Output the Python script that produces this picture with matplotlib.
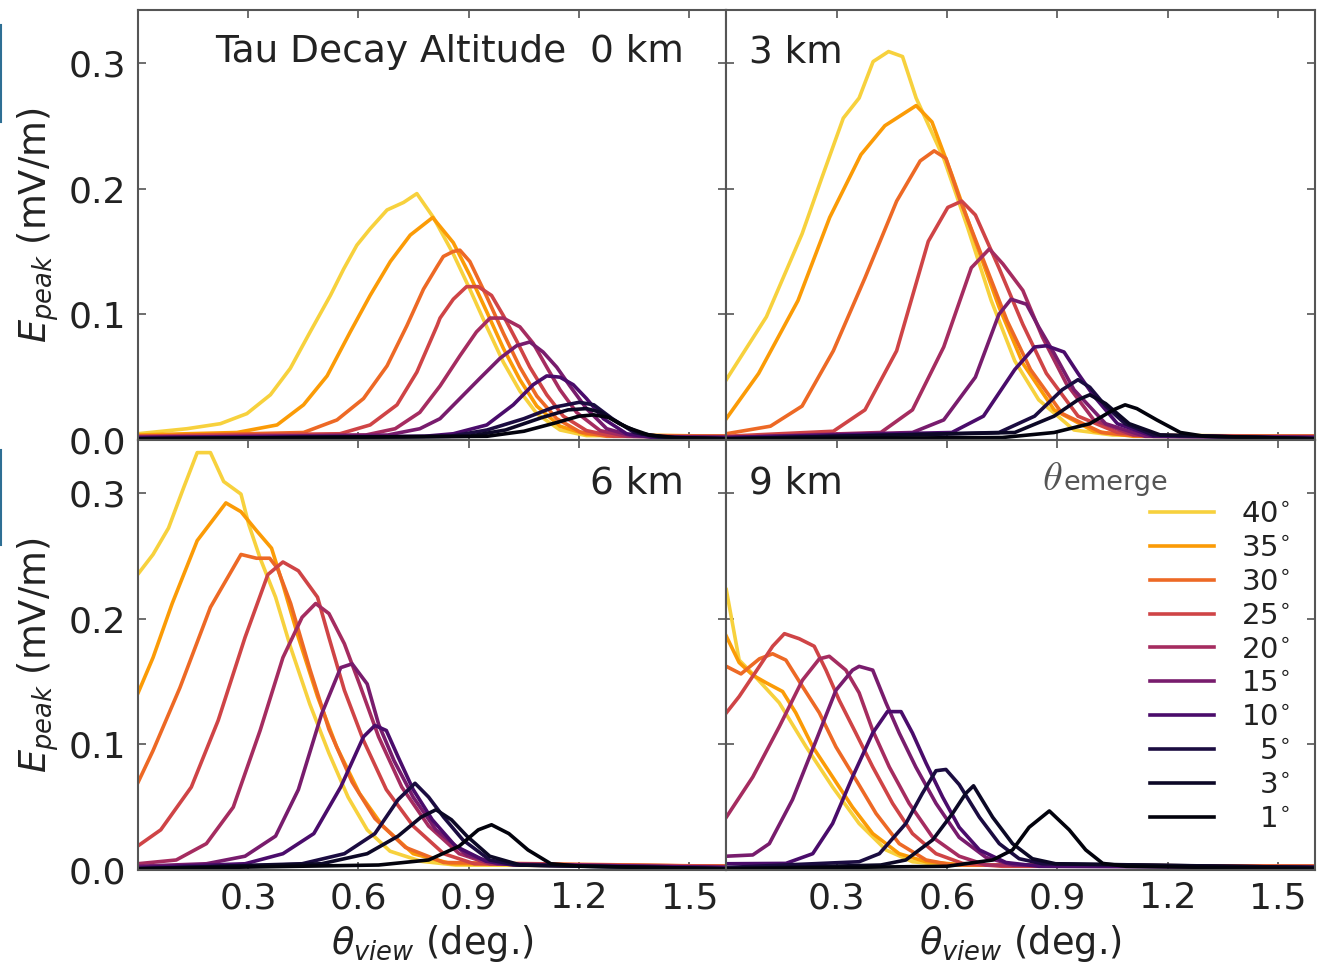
import matplotlib
matplotlib.use('Agg')
import matplotlib.pyplot as plt
import numpy as np
from matplotlib.ticker import FormatStrFormatter

angles = [40, 35, 30, 25, 20, 15, 10, 5, 3, 1]
altitudes = [0, 3, 6, 9]
panel_text = ['Tau Decay Altitude  0 km', '3 km', '6 km', '9 km']
xticks = [0.3, 0.6, 0.9, 1.2, 1.5]
yticks = [0.0, 0.1, 0.2, 0.3]

# altitude 0 km: (theta_view, E_peak) points per emergence angle
a0_t40 = [(0, 0.005), (0.134, 0.009), (0.225, 0.013), (0.297, 0.021), (0.361, 0.036), (0.415, 0.057), (0.469, 0.086), (0.524, 0.115), (0.56, 0.136), (0.596, 0.155), (0.632, 0.168), (0.678, 0.183), (0.723, 0.189), (0.759, 0.196), (0.804, 0.177), (0.858, 0.148), (0.903, 0.12), (0.949, 0.09), (0.994, 0.062), (1.039, 0.039), (1.085, 0.021), (1.148, 0.008), (1.22, 0.0035), (1.6, 0.003)]
a0_t35 = [(0, 0.004), (0.27, 0.006), (0.379, 0.012), (0.451, 0.028), (0.515, 0.051), (0.578, 0.086), (0.632, 0.115), (0.687, 0.142), (0.741, 0.163), (0.802, 0.177), (0.858, 0.157), (0.903, 0.131), (0.949, 0.102), (0.994, 0.073), (1.039, 0.048), (1.085, 0.027), (1.148, 0.011), (1.22, 0.0045), (1.6, 0.003)]
a0_t30 = [(0, 0.003), (0.451, 0.006), (0.542, 0.016), (0.614, 0.033), (0.678, 0.059), (0.732, 0.091), (0.777, 0.12), (0.814, 0.138), (0.831, 0.146), (0.858, 0.15), (0.876, 0.151), (0.903, 0.142), (0.949, 0.114), (0.994, 0.085), (1.039, 0.058), (1.085, 0.035), (1.139, 0.017), (1.202, 0.0065), (1.275, 0.003), (1.6, 0.003)]
a0_t25 = [(0, 0.003), (0.55, 0.005), (0.632, 0.012), (0.705, 0.028), (0.759, 0.054), (0.814, 0.091), (0.822, 0.097), (0.858, 0.112), (0.894, 0.122), (0.926, 0.122), (0.962, 0.115), (0.994, 0.099), (1.03, 0.079), (1.066, 0.058), (1.112, 0.036), (1.157, 0.019), (1.22, 0.0075), (1.293, 0.003), (1.6, 0.003)]
a0_t20 = [(0, 0.002), (0.62, 0.004), (0.7, 0.009), (0.767, 0.022), (0.822, 0.043), (0.876, 0.067), (0.921, 0.086), (0.958, 0.097), (0.994, 0.097), (1.039, 0.09), (1.075, 0.077), (1.112, 0.058), (1.148, 0.04), (1.193, 0.022), (1.257, 0.0075), (1.329, 0.003), (1.6, 0.002)]
a0_t15 = [(0, 0.002), (0.68, 0.004), (0.767, 0.009), (0.822, 0.017), (0.876, 0.033), (0.93, 0.049), (0.985, 0.065), (1.03, 0.075), (1.066, 0.078), (1.102, 0.07), (1.139, 0.058), (1.175, 0.043), (1.22, 0.025), (1.275, 0.009), (1.347, 0.003), (1.6, 0.002)]
a0_t10 = [(0, 0.002), (0.78, 0.003), (0.858, 0.005), (0.949, 0.012), (1.021, 0.028), (1.075, 0.044), (1.112, 0.051), (1.148, 0.05), (1.184, 0.044), (1.22, 0.033), (1.266, 0.017), (1.329, 0.005), (1.401, 0.002), (1.6, 0.002)]
a0_t5 = [(0, 0.001), (0.85, 0.003), (0.95, 0.008), (1.05, 0.017), (1.13, 0.026), (1.2, 0.03), (1.24, 0.028), (1.29, 0.017), (1.35, 0.006), (1.42, 0.002), (1.6, 0.001)]
a0_t3 = [(0, 0.001), (0.9, 0.003), (1.0, 0.008), (1.1, 0.018), (1.17, 0.024), (1.22, 0.025), (1.26, 0.022), (1.31, 0.013), (1.37, 0.005), (1.44, 0.002), (1.6, 0.001)]
a0_t1 = [(0, 0.001), (0.95, 0.003), (1.05, 0.007), (1.14, 0.014), (1.2, 0.019), (1.24, 0.02), (1.28, 0.018), (1.33, 0.01), (1.39, 0.004), (1.46, 0.002), (1.6, 0.001)]

# altitude 3 km
a3_t40 = [(0, 0.048), (0.109, 0.098), (0.206, 0.164), (0.259, 0.208), (0.318, 0.256), (0.361, 0.272), (0.399, 0.301), (0.441, 0.309), (0.479, 0.305), (0.516, 0.272), (0.591, 0.224), (0.656, 0.169), (0.72, 0.111), (0.784, 0.063), (0.849, 0.032), (0.945, 0.008), (1.05, 0.004), (1.6, 0.003)]
a3_t35 = [(0, 0.017), (0.088, 0.053), (0.195, 0.111), (0.281, 0.177), (0.366, 0.227), (0.431, 0.25), (0.516, 0.266), (0.559, 0.253), (0.613, 0.211), (0.677, 0.158), (0.741, 0.106), (0.806, 0.061), (0.891, 0.024), (0.999, 0.007), (1.106, 0.003), (1.6, 0.003)]
a3_t30 = [(0, 0.005), (0.12, 0.011), (0.206, 0.027), (0.291, 0.071), (0.377, 0.129), (0.463, 0.19), (0.527, 0.222), (0.565, 0.23), (0.597, 0.224), (0.634, 0.192), (0.699, 0.143), (0.763, 0.095), (0.827, 0.056), (0.913, 0.021), (1.02, 0.006), (1.127, 0.003), (1.6, 0.003)]
a3_t25 = [(0, 0.003), (0.291, 0.007), (0.377, 0.024), (0.463, 0.071), (0.549, 0.158), (0.602, 0.185), (0.64, 0.19), (0.677, 0.179), (0.741, 0.137), (0.806, 0.092), (0.87, 0.053), (0.956, 0.019), (1.063, 0.006), (1.16, 0.003), (1.6, 0.003)]
a3_t20 = [(0, 0.002), (0.42, 0.006), (0.506, 0.024), (0.591, 0.074), (0.666, 0.137), (0.715, 0.152), (0.752, 0.14), (0.806, 0.119), (0.859, 0.082), (0.924, 0.045), (0.999, 0.016), (1.106, 0.004), (1.6, 0.002)]
a3_t15 = [(0, 0.002), (0.506, 0.006), (0.591, 0.016), (0.677, 0.05), (0.741, 0.1), (0.774, 0.112), (0.816, 0.108), (0.849, 0.09), (0.891, 0.069), (0.945, 0.04), (1.031, 0.013), (1.138, 0.003), (1.6, 0.002)]
a3_t10 = [(0, 0.002), (0.613, 0.006), (0.699, 0.019), (0.784, 0.056), (0.838, 0.074), (0.87, 0.075), (0.918, 0.07), (0.956, 0.053), (0.999, 0.035), (1.063, 0.013), (1.16, 0.003), (1.6, 0.002)]
a3_t5 = [(0, 0.001), (0.741, 0.006), (0.838, 0.019), (0.913, 0.04), (0.956, 0.048), (0.988, 0.042), (1.031, 0.027), (1.084, 0.013), (1.16, 0.004), (1.6, 0.001)]
a3_t3 = [(0, 0.001), (0.784, 0.006), (0.891, 0.019), (0.956, 0.032), (0.988, 0.036), (1.031, 0.029), (1.095, 0.013), (1.18, 0.004), (1.6, 0.001)]
a3_t1 = [(0, 0.001), (0.75, 0.002), (0.891, 0.006), (0.988, 0.013), (1.052, 0.024), (1.084, 0.028), (1.116, 0.025), (1.17, 0.016), (1.234, 0.006), (1.3, 0.003), (1.6, 0.001)]

# altitude 6 km
a6_t40 = [(0, 0.235), (0.042, 0.251), (0.084, 0.272), (0.125, 0.304), (0.162, 0.332), (0.198, 0.332), (0.234, 0.309), (0.281, 0.299), (0.302, 0.275), (0.333, 0.248), (0.375, 0.217), (0.416, 0.177), (0.468, 0.132), (0.52, 0.093), (0.572, 0.058), (0.624, 0.032), (0.686, 0.015), (0.77, 0.007), (0.864, 0.004), (1.6, 0.003)]
a6_t35 = [(0, 0.14), (0.042, 0.169), (0.094, 0.212), (0.162, 0.262), (0.24, 0.292), (0.281, 0.285), (0.323, 0.27), (0.364, 0.256), (0.395, 0.227), (0.437, 0.185), (0.489, 0.138), (0.541, 0.098), (0.603, 0.061), (0.666, 0.035), (0.749, 0.013), (0.853, 0.005), (1.6, 0.003)]
a6_t30 = [(0, 0.069), (0.042, 0.095), (0.115, 0.145), (0.198, 0.209), (0.281, 0.251), (0.323, 0.248), (0.359, 0.248), (0.38, 0.24), (0.416, 0.212), (0.468, 0.16), (0.52, 0.112), (0.583, 0.07), (0.645, 0.041), (0.728, 0.018), (0.832, 0.006), (1.6, 0.003)]
a6_t25 = [(0, 0.019), (0.063, 0.032), (0.146, 0.066), (0.219, 0.119), (0.292, 0.185), (0.354, 0.235), (0.395, 0.245), (0.437, 0.238), (0.489, 0.217), (0.52, 0.185), (0.562, 0.143), (0.614, 0.103), (0.676, 0.064), (0.749, 0.035), (0.832, 0.013), (0.915, 0.005), (1.6, 0.003)]
a6_t20 = [(0, 0.005), (0.105, 0.008), (0.187, 0.021), (0.26, 0.05), (0.333, 0.111), (0.395, 0.169), (0.447, 0.201), (0.484, 0.212), (0.52, 0.204), (0.562, 0.18), (0.603, 0.148), (0.655, 0.106), (0.718, 0.066), (0.791, 0.035), (0.874, 0.013), (0.957, 0.005), (1.6, 0.002)]
a6_t15 = [(0, 0.003), (0.187, 0.005), (0.292, 0.011), (0.375, 0.027), (0.437, 0.064), (0.5, 0.124), (0.552, 0.161), (0.583, 0.164), (0.624, 0.148), (0.655, 0.116), (0.697, 0.087), (0.749, 0.058), (0.811, 0.032), (0.895, 0.012), (0.978, 0.005), (1.6, 0.002)]
a6_t10 = [(0, 0.002), (0.292, 0.005), (0.395, 0.013), (0.479, 0.029), (0.552, 0.066), (0.614, 0.106), (0.645, 0.115), (0.676, 0.111), (0.708, 0.09), (0.749, 0.064), (0.801, 0.04), (0.864, 0.019), (0.947, 0.007), (1.02, 0.004), (1.6, 0.002)]
a6_t5 = [(0, 0.001), (0.447, 0.005), (0.562, 0.013), (0.645, 0.029), (0.708, 0.056), (0.754, 0.069), (0.791, 0.058), (0.832, 0.042), (0.884, 0.024), (0.957, 0.008), (1.03, 0.004), (1.6, 0.001)]
a6_t3 = [(0, 0.001), (0.5, 0.005), (0.624, 0.013), (0.708, 0.027), (0.77, 0.042), (0.811, 0.048), (0.853, 0.04), (0.895, 0.027), (0.957, 0.011), (1.04, 0.004), (1.6, 0.001)]
a6_t1 = [(0, 0.001), (0.655, 0.004), (0.791, 0.008), (0.874, 0.019), (0.926, 0.032), (0.962, 0.036), (1.009, 0.029), (1.061, 0.016), (1.123, 0.005), (1.207, 0.003), (1.6, 0.001)]

# altitude 9 km
a9_t40 = [(0, 0.223), (0.035, 0.167), (0.072, 0.156), (0.144, 0.133), (0.217, 0.098), (0.289, 0.066), (0.361, 0.037), (0.434, 0.016), (0.506, 0.0066), (0.6, 0.004), (1.6, 0.003)]
a9_t35 = [(0, 0.186), (0.035, 0.165), (0.072, 0.155), (0.108, 0.149), (0.153, 0.142), (0.189, 0.125), (0.235, 0.098), (0.289, 0.074), (0.343, 0.05), (0.398, 0.029), (0.47, 0.013), (0.543, 0.0066), (0.65, 0.004), (1.6, 0.003)]
a9_t30 = [(0, 0.162), (0.04, 0.156), (0.09, 0.168), (0.126, 0.172), (0.162, 0.167), (0.207, 0.146), (0.253, 0.125), (0.298, 0.098), (0.352, 0.072), (0.407, 0.045), (0.47, 0.021), (0.543, 0.008), (0.615, 0.004), (1.6, 0.003)]
a9_t25 = [(0, 0.125), (0.035, 0.138), (0.09, 0.162), (0.126, 0.178), (0.158, 0.188), (0.198, 0.184), (0.239, 0.178), (0.271, 0.159), (0.307, 0.135), (0.352, 0.109), (0.398, 0.082), (0.452, 0.053), (0.506, 0.029), (0.57, 0.013), (0.642, 0.0053), (0.75, 0.003), (1.6, 0.003)]
a9_t20 = [(0, 0.042), (0.072, 0.074), (0.144, 0.114), (0.207, 0.151), (0.253, 0.168), (0.28, 0.17), (0.325, 0.159), (0.361, 0.141), (0.398, 0.111), (0.443, 0.082), (0.497, 0.053), (0.561, 0.026), (0.633, 0.011), (0.706, 0.004), (1.6, 0.002)]
a9_t15 = [(0, 0.011), (0.072, 0.012), (0.117, 0.021), (0.18, 0.056), (0.244, 0.103), (0.298, 0.143), (0.343, 0.159), (0.361, 0.162), (0.398, 0.159), (0.434, 0.133), (0.47, 0.109), (0.515, 0.082), (0.57, 0.053), (0.633, 0.026), (0.706, 0.01), (0.78, 0.004), (1.6, 0.002)]
a9_t10 = [(0, 0.005), (0.162, 0.0053), (0.235, 0.013), (0.289, 0.037), (0.343, 0.074), (0.398, 0.109), (0.438, 0.126), (0.475, 0.126), (0.506, 0.109), (0.543, 0.085), (0.588, 0.058), (0.633, 0.034), (0.688, 0.016), (0.76, 0.006), (0.85, 0.003), (1.6, 0.002)]
a9_t5 = [(0, 0.002), (0.361, 0.0066), (0.416, 0.013), (0.488, 0.037), (0.533, 0.061), (0.57, 0.079), (0.597, 0.08), (0.633, 0.068), (0.688, 0.042), (0.742, 0.021), (0.796, 0.009), (0.859, 0.005), (1.6, 0.002)]
a9_t3 = [(0, 0.001), (0.42, 0.004), (0.488, 0.008), (0.561, 0.024), (0.615, 0.045), (0.651, 0.061), (0.672, 0.067), (0.724, 0.042), (0.778, 0.021), (0.832, 0.009), (0.895, 0.005), (1.6, 0.002)]
a9_t1 = [(0, 0.001), (0.6, 0.003), (0.724, 0.008), (0.778, 0.016), (0.823, 0.034), (0.878, 0.047), (0.932, 0.032), (0.977, 0.016), (1.023, 0.0053), (1.086, 0.003), (1.6, 0.001)]

panels = [
    [a0_t40, a0_t35, a0_t30, a0_t25, a0_t20, a0_t15, a0_t10, a0_t5, a0_t3, a0_t1],
    [a3_t40, a3_t35, a3_t30, a3_t25, a3_t20, a3_t15, a3_t10, a3_t5, a3_t3, a3_t1],
    [a6_t40, a6_t35, a6_t30, a6_t25, a6_t20, a6_t15, a6_t10, a6_t5, a6_t3, a6_t1],
    [a9_t40, a9_t35, a9_t30, a9_t25, a9_t20, a9_t15, a9_t10, a9_t5, a9_t3, a9_t1],
]

cmap = plt.get_cmap('inferno')
labels = [('\u2007' if a < 10 else '') + str(a) + r'$^{\circ}$' for a in angles]

fig, axes = plt.subplots(2, 2, figsize=(13.18, 9.65), dpi=100)
fig.subplots_adjust(left=0.1044, right=0.9977, top=0.9896, bottom=0.0984,
                    wspace=0, hspace=0)

for i, ax in enumerate(axes.flat):
    for a, lab, pts in zip(angles, labels, panels[i]):
        pts = np.array(pts)
        ax.plot(pts[:, 0], pts[:, 1], color=cmap(a / 45.0), lw=2.6, label=lab)
    ax.set_xlim(0, 1.6)
    ax.set_ylim(0, 0.342)
    ax.set_xticks(xticks)
    ax.set_yticks(yticks)
    ax.yaxis.set_major_formatter(FormatStrFormatter('%.1f'))
    ax.xaxis.set_major_formatter(FormatStrFormatter('%.1f'))
    ax.tick_params(direction='in', top=True, right=True, length=6, width=1.2,
                   color='#555555', labelsize=26, labelcolor='#222222', pad=8)
    for s in ax.spines.values():
        s.set_color('#555555')
        s.set_linewidth(1.5)
    if i < 2:
        ax.tick_params(labelbottom=False)
    else:
        ax.set_xlabel(r'$\theta_{view}$ (deg.)', fontsize=26.5, color='#222222',
                      labelpad=6)
    if i % 2 == 1:
        ax.tick_params(labelleft=False)
    else:
        ax.set_ylabel(r'$E_{peak}$ (mV/m)', fontsize=26.5, color='#222222',
                      labelpad=5.5)
    ty = 0.879 if i < 2 else 0.875
    if i % 2 == 0:
        ax.text(0.9285, ty, panel_text[i], transform=ax.transAxes,
                ha='right', va='baseline', fontsize=27, color='#222222')
    else:
        ax.text(0.039, ty, panel_text[i], transform=ax.transAxes,
                ha='left', va='baseline', fontsize=27, color='#222222')

ax = axes[1, 1]
leg = ax.legend(loc='upper right', bbox_to_anchor=(0.958, 0.86), frameon=False,
                fontsize=21, handlelength=2.2, handletextpad=0.95,
                labelspacing=0.2, borderpad=0, borderaxespad=0)
for t in leg.get_texts():
    t.set_color('#222222')
ax.text(0.537, 0.884, r'$\theta$', transform=ax.transAxes, math_fontfamily='cm',
        fontsize=29, color='#555555', va='baseline', ha='left')
ax.text(0.572, 0.884, 'emerge', transform=ax.transAxes, fontsize=19.5,
        color='#555555', va='baseline', ha='left')

# cropped edge marks from the source page
fig.add_artist(plt.Line2D([0.001, 0.001], [0.874, 0.974], transform=fig.transFigure,
                          color='#2e6f94', lw=1.5))
fig.add_artist(plt.Line2D([0.001, 0.001], [0.435, 0.534], transform=fig.transFigure,
                          color='#2e6f94', lw=1.5))

fig.savefig('out.png', dpi=100)
